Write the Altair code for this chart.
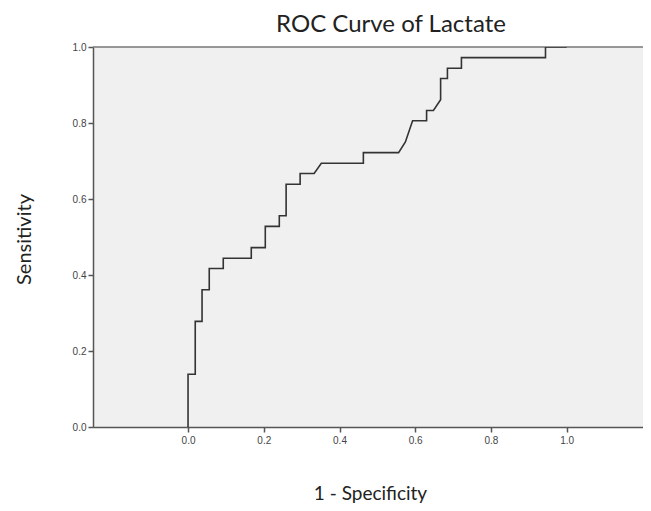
import altair as alt
import pandas as pd

fpr = [0.0, 0.0, 0.019, 0.019, 0.037, 0.037, 0.056, 0.056, 0.093, 0.093,
       0.167, 0.167, 0.204, 0.204, 0.241, 0.241, 0.259, 0.259, 0.296, 0.296,
       0.333, 0.352, 0.463, 0.463, 0.556, 0.574, 0.593, 0.630, 0.630, 0.648,
       0.667, 0.667, 0.685, 0.685, 0.722, 0.722, 0.944, 0.944, 1.0]
tpr = [0.0, 0.139, 0.139, 0.278, 0.278, 0.361, 0.361, 0.417, 0.417, 0.444,
       0.444, 0.472, 0.472, 0.528, 0.528, 0.556, 0.556, 0.639, 0.639, 0.667,
       0.667, 0.694, 0.694, 0.722, 0.722, 0.750, 0.806, 0.806, 0.833, 0.833,
       0.861, 0.917, 0.917, 0.944, 0.944, 0.972, 0.972, 1.0, 1.0]
tick_vals = [0.0, 0.2, 0.4, 0.6, 0.8, 1.0]
title_text = "ROC Curve of Lactate"

df = pd.DataFrame({"fpr": fpr, "tpr": tpr, "step": list(range(len(fpr)))})

W, H = 550, 380
xs = alt.Scale(domain=[-0.251, 1.2015], nice=False, zero=False)
ys = alt.Scale(domain=[0, 1], nice=False)

x_axis = alt.Axis(values=tick_vals, format=".1f", grid=False, title="1 - Specificity",
                  domainColor="#555555", domainWidth=1.5, tickColor="#555555", tickWidth=1.5,
                  tickSize=5, labelFont="Liberation Sans", labelFontSize=10, labelColor="#444444",
                  labelPadding=3, titleFont="Lato", titleFontSize=19, titleFontWeight="normal",
                  titleColor="#222222", titleX=277, titleY=72, titleBaseline="alphabetic",
                  titleAlign="center")
y_axis = alt.Axis(values=tick_vals, format=".1f", grid=False, title="Sensitivity",
                  domainColor="#555555", domainWidth=1.5, tickColor="#555555", tickWidth=1.5,
                  tickSize=5, labelFont="Liberation Sans", labelFontSize=10, labelColor="#444444",
                  labelPadding=2, titleFont="Lato", titleFontSize=20, titleFontWeight="normal",
                  titleColor="#222222", titleX=-69, titleY=192, titleAngle=-90,
                  titleBaseline="middle", titleAlign="center")

curve = alt.Chart(df).mark_line(color="#333333", strokeWidth=1.6, clip=True).encode(
    x=alt.X("fpr:Q", scale=xs, axis=x_axis),
    y=alt.Y("tpr:Q", scale=ys, axis=y_axis),
    order="step:Q",
)

top = alt.Chart(pd.DataFrame({"v": [1.0]})).mark_rule(color="#777777", strokeWidth=1.5).encode(
    y=alt.Y("v:Q", scale=ys),
    x=alt.value(0),
    x2=alt.value(W),
)

title = alt.Chart(pd.DataFrame({"t": [title_text]})).mark_text(
    font="Lato", fontSize=24, color="#222222", align="center", baseline="alphabetic"
).encode(x=alt.value(298), y=alt.value(-15), text="t:N")

chart = alt.layer(top, curve, title).properties(
    width=W, height=H,
    padding={"left": 85, "top": 39, "right": 0, "bottom": 76},
    autosize=alt.AutoSizeParams(type="none"),
).configure(background="white").configure_view(fill="#F0F0F0", strokeWidth=0)

chart.save("out.html", embed_options={"renderer": "svg", "actions": False})
